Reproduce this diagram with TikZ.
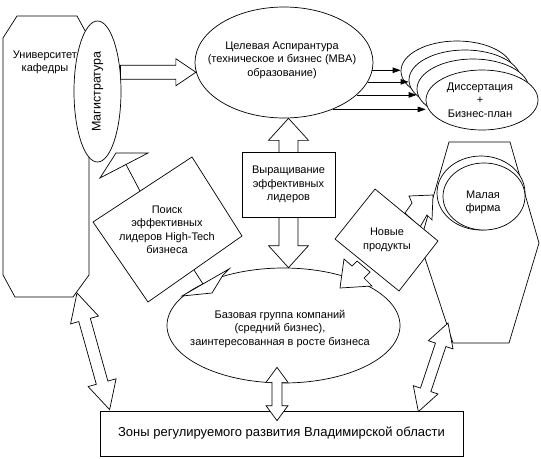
\documentclass[tikz,border=0pt]{standalone}
\usepackage{fontspec}
\setmainfont{Liberation Sans}
\usetikzlibrary{arrows.meta,calc,shapes.geometric}
\tikzset{blk/.style={draw,fill=white,line join=miter}}
% two-headed and one-headed block arrows: ends, shaft half-width, head half-width, head length
\newcommand\twoway[5]{%
  \path ($(#1)!#5!(#2)$) coordinate (hd-a) ($(#2)!#5!(#1)$) coordinate (hd-b);
  \draw[blk] (#1) -- ($(hd-a)!#4!90:(#2)$) -- ($(hd-a)!#3!90:(#2)$) -- ($(hd-b)!#3!-90:(#1)$) -- ($(hd-b)!#4!-90:(#1)$) -- (#2)
    -- ($(hd-b)!#4!90:(#1)$) -- ($(hd-b)!#3!90:(#1)$) -- ($(hd-a)!#3!-90:(#2)$) -- ($(hd-a)!#4!-90:(#2)$) -- cycle;}
\newcommand\oneway[5]{%
  \path ($(#2)!#5!(#1)$) coordinate (hd-b);
  \draw[blk] ($(#1)!#3!-90:(#2)$) -- ($(hd-b)!#3!90:(#1)$) -- ($(hd-b)!#4!90:(#1)$) -- (#2)
    -- ($(hd-b)!#4!-90:(#1)$) -- ($(hd-b)!#3!-90:(#1)$) -- ($(#1)!#3!90:(#2)$) -- cycle;}
\begin{document}
\begin{tikzpicture}[x=1pt,y=-1pt,line width=0.7pt,font=\fontsize{11}{13.5}\selectfont,
  oval/.style={draw,fill=white,ellipse,inner sep=0pt},
  txt/.style={align=center,inner sep=0pt},
  tip/.style={-{Triangle[length=8pt,width=5.5pt]}}]
\useasboundingbox (0,0) rectangle (541,458);
% university and master's course
\draw[blk] (17,16) -- (77,16) -- (89,38) -- (89,275) -- (73,297) -- (15,297) -- (3,275) -- (3,38) -- cycle;
\node[txt] (univ) at (45,62.5) {Университет\\кафедры};
\node[oval,minimum width=47pt,minimum height=141pt] (mag) at (97.5,91.5) {};
\node[txt,rotate=90,font=\fontsize{12.5}{14}\selectfont] at (mag) {Магистратура};
% postgraduate study
\node[oval,minimum width=178pt,minimum height=111pt] (aspir) at (284,62.5) {};
\node[txt] at (282,60) {Целевая Аспирантура\\(техническое и бизнес (MBA)\\образование)};
\coordinate (m-out) at (mag.40);
\coordinate (a-in) at (m-out -| aspir.186);
\oneway{m-out}{a-in}{7pt}{13.5pt}{20pt}
% dissertation stack
\foreach \cx/\cy [count=\i] in {457/71,465/80,473/89,482/100}
  \node[oval,minimum width=112pt,minimum height=60pt] (diss\i) at (\cx,\cy) {};
\node[txt] at (480,100) {Диссертация\\+\\Бизнес-план};
\foreach \a [count=\i] in {-5,-13,-24,-44}
  \draw[tip] (aspir.\a) -- (aspir.\a -| diss\i.west);
% base group
\node[oval,minimum width=233pt,minimum height=115pt] (base) at (283.5,325.5) {};
\node[txt] at (280,329) {Базовая группа компаний\\(средний бизнес),\\заинтересованная в росте бизнеса};
% growing leaders
\coordinate (g1) at ($(aspir.south)+(4.5,0)$);
\coordinate (g2) at (g1 |- base.north);
\twoway{g1}{g2}{9.5pt}{20pt}{22pt}
\node[draw,fill=white,txt,minimum width=93pt,minimum height=65pt] (grow) at (288.5,184.5) {Выращивание\\эффективных\\лидеров};
% search
\draw[blk] (192,157) -- (242,236) -- (148,302) -- (93,222) -- cycle;
\node[txt] (search) at (167,230) {Поиск\\эффективных\\лидеров High-Tech\\бизнеса};
\draw[blk] (116,153) -- (148,153) -- (100,178) -- cycle;
\draw (126,164.5) -- (140,191);
\draw[blk] (182,296) -- (229,269) -- (223,275) -- (212,293) -- cycle;
\draw (194,270) -- (203,284);
% small firm
\draw[blk] (449,142) -- (510,142) -- (539,243) -- (509,343) -- (453,343) -- (420,243) -- cycle;
\node[oval,minimum width=88pt,minimum height=74pt] (firm0) at (481,193) {};
\node[oval,minimum width=82pt,minimum height=67pt] (firm) at (484,196.5) {};
\node[txt] at (483,202.5) {Малая\\фирма};
% new products
\draw[blk] (405,213) -- (412,203) -- (409,196) -- (433,195) -- (432,220) -- (427,215) -- (420,227) -- cycle;
\draw[blk] (357,261) -- (352,266) -- (344,259) -- (340,288) -- (372,286) -- (364,278) -- (370,272) -- cycle;
\draw[blk] (375,189) -- (438,241) -- (399,291) -- (335,239) -- cycle;
\node[txt] (prod) at (387,240) {Новые\\продукты};
% zones
\node[draw,fill=white,minimum width=363pt,minimum height=45pt,font=\fontsize{13}{15}\selectfont] (zone) at (281.5,433.5) {Зоны регулируемого развития Владимирской области};
\coordinate (oct-se) at (77,293);
\coordinate (hex-sw) at (448,323);
\coordinate (base-s) at ($(base.south)+(-6.5,-16)$);
\coordinate (z1) at ($(zone.north west)+(10,-1)$);
\coordinate (z2) at ($(zone.north)+(-4.5,10)$);
\coordinate (z3) at ($(zone.north east)+(-45,1)$);
\twoway{oct-se}{z1}{6pt}{14.5pt}{28pt}
\twoway{base-s}{z2}{5pt}{11pt}{15pt}
\twoway{hex-sw}{z3}{5.5pt}{13pt}{23pt}
\end{tikzpicture}
\end{document}
